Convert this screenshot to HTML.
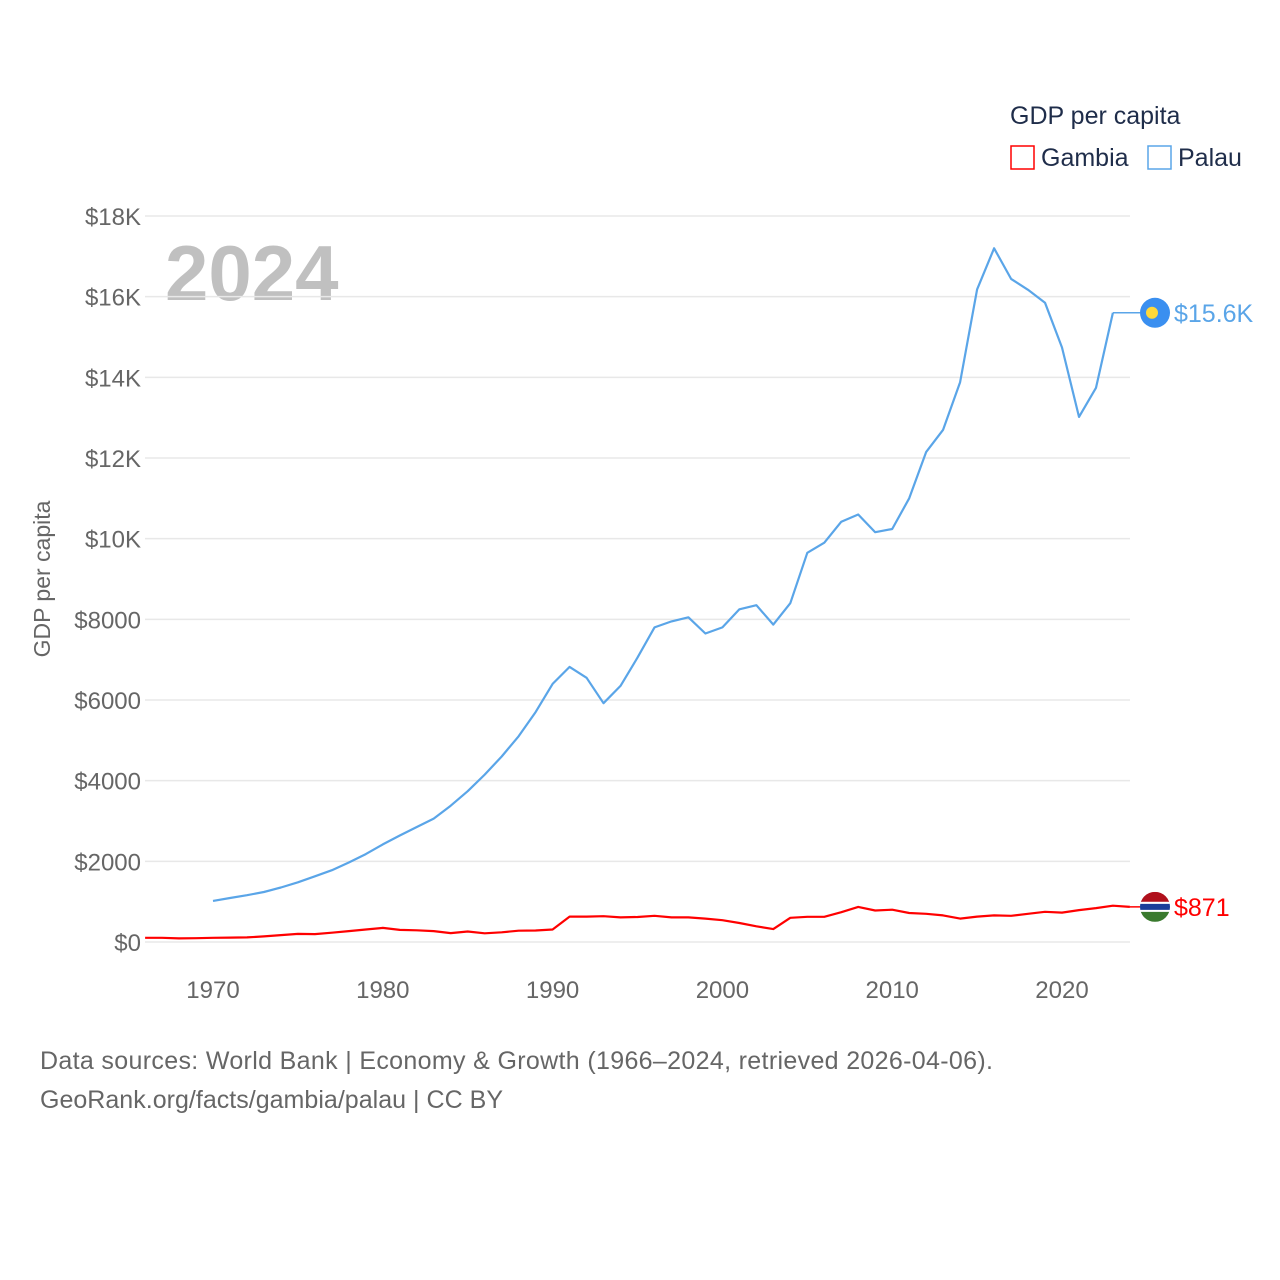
<!DOCTYPE html>
<html><head><meta charset="utf-8">
<style>
html,body{margin:0;padding:0;background:#fff;}
svg{display:block;font-family:"Liberation Sans",sans-serif;}
</style></head>
<body>
<svg id="chart" width="1280" height="1280" viewBox="0 0 1280 1280">
  <text x="1010" y="124" font-size="25" fill="#1f2d4a">GDP per capita</text>
  <g>
    <rect x="1011" y="146" width="23" height="23" fill="none" stroke="#ff0000" stroke-width="1.5"/>
    <text x="1041" y="166" font-size="25" fill="#1f2d4a">Gambia</text>
  </g>
  <g>
    <rect x="1148" y="146" width="23" height="23" fill="none" stroke="#5aa5e8" stroke-width="1.5"/>
    <text x="1178" y="166" font-size="25" fill="#1f2d4a">Palau</text>
  </g>
  <text x="165" y="300" font-size="78" font-weight="bold" fill="#c0c0c0">2024</text>
  <text transform="translate(50,579) rotate(-90)" text-anchor="middle" font-size="23" fill="#666">GDP per capita</text>
  <g id="grid"></g>
  <g id="yticks"></g>
  <g id="xticks"></g>
  <g id="series"></g>
  <text x="40" y="1069" font-size="25" fill="#666" textLength="953">Data sources: World Bank | Economy &amp; Growth (1966–2024, retrieved 2026-04-06).</text>
  <text x="40" y="1108" font-size="25" fill="#666" textLength="463">GeoRank.org/facts/gambia/palau | CC BY</text>
</svg>
<script>
const yTicks=[0,2000,4000,6000,8000,10000,12000,14000,16000,18000];
const yTickLabels=["$0","$2000","$4000","$6000","$8000","$10K","$12K","$14K","$16K","$18K"];
const xTicks=[1970,1980,1990,2000,2010,2020];
const gambiaYears=[1966,1967,1968,1969,1970,1971,1972,1973,1974,1975,1976,1977,1978,1979,1980,1981,1982,1983,1984,1985,1986,1987,1988,1989,1990,1991,1992,1993,1994,1995,1996,1997,1998,1999,2000,2001,2002,2003,2004,2005,2006,2007,2008,2009,2010,2011,2012,2013,2014,2015,2016,2017,2018,2019,2020,2021,2022,2023,2024];
const gambiaValues=[105,105,90,95,105,110,115,140,170,200,195,230,270,310,350,300,290,270,220,260,215,240,280,285,310,630,630,640,610,620,650,610,610,580,540,470,390,320,600,625,625,740,870,780,800,720,700,660,580,630,660,650,700,750,730,790,840,900,871];
const palauYears=[1970,1971,1972,1973,1974,1975,1976,1977,1978,1979,1980,1981,1982,1983,1984,1985,1986,1987,1988,1989,1990,1991,1992,1993,1994,1995,1996,1997,1998,1999,2000,2001,2002,2003,2004,2005,2006,2007,2008,2009,2010,2011,2012,2013,2014,2015,2016,2017,2018,2019,2020,2021,2022,2023];
const palauValues=[1020,1090,1160,1240,1350,1480,1630,1780,1970,2180,2420,2640,2850,3060,3380,3740,4150,4600,5100,5700,6400,6820,6550,5920,6350,7050,7800,7950,8050,7650,7800,8250,8350,7870,8400,9650,9900,10420,10600,10160,10240,11000,12150,12700,13880,16180,17200,16440,16170,15850,14740,13020,13740,15600];

const NS="http://www.w3.org/2000/svg";
const X=yr=>213+(yr-1970)*(1062-213)/50;
const Y=v=>942-v*(942-216)/18000;
function mk(tag,attrs,parent){const e=document.createElementNS(NS,tag);for(const k in attrs)e.setAttribute(k,attrs[k]);parent.appendChild(e);return e;}
const grid=document.getElementById('grid'),yt=document.getElementById('yticks'),xt=document.getElementById('xticks'),ser=document.getElementById('series');
yTicks.forEach((v,i)=>{
  const l=mk('line',{x1:145,x2:1130,y1:Y(v),y2:Y(v),stroke:'#e8e8e8','stroke-width':1.5},grid);
  
  
  const t=mk('text',{x:141,y:Y(v)+9,'text-anchor':'end','font-size':24,fill:'#666'},yt);
  t.textContent=yTickLabels[i];
  
  
});
xTicks.forEach(yr=>{
  const t=mk('text',{x:X(yr),y:998,'text-anchor':'middle','font-size':24,fill:'#666'},xt);
  t.textContent=yr;
  
  
});
function line(years,vals,color,name){
  const d=years.map((y,i)=>(i?'L':'M')+X(y).toFixed(1)+','+Y(vals[i]).toFixed(1)).join(' ');
  const p=mk('path',{d:d,fill:'none',stroke:color,'stroke-width':2.2,'stroke-linejoin':'round'},ser);
  
  
}
line(palauYears,palauValues,'#5aa5e8','palau-line');
line(gambiaYears,gambiaValues,'#ff0000','gambia-line');
const pl=palauValues[palauValues.length-1],py=Y(pl);
const pc=mk('line',{x1:X(palauYears[palauYears.length-1]),x2:1140,y1:py,y2:py,stroke:'#5aa5e8','stroke-width':1.5},ser);


const pf=mk('g',{},ser);


mk('circle',{cx:1155,cy:py,r:15,fill:'#3a8ff0'},pf);
mk('circle',{cx:1152,cy:py,r:6,fill:'#ffd83a'},pf);
const ptx=mk('text',{x:1174,y:py+9,'font-size':25,fill:'#5aa5e8'},ser);
ptx.textContent='$'+(pl/1000).toFixed(1)+'K';


const gl=gambiaValues[gambiaValues.length-1],gy=Y(gl);
const gc=mk('line',{x1:X(2024),x2:1140,y1:gy,y2:gy,stroke:'#ff0000','stroke-width':1.5},ser);


const gf=mk('g',{},ser);


const cp=mk('clipPath',{id:'gclip'},gf);mk('circle',{cx:1155,cy:gy,r:15},cp);
const gg=mk('g',{'clip-path':'url(#gclip)'},gf);
mk('rect',{x:1140,y:gy-15,width:30,height:10,fill:'#b0101c'},gg);
mk('rect',{x:1140,y:gy-5,width:30,height:10,fill:'#ffffff'},gg);
mk('rect',{x:1140,y:gy-3,width:30,height:6,fill:'#1a3e9a'},gg);
mk('rect',{x:1140,y:gy+5,width:30,height:10,fill:'#3a7a2e'},gg);
const gtx=mk('text',{x:1174,y:gy+9,'font-size':25,fill:'#ff0000'},ser);
gtx.textContent='$'+gl;


</script>
</body></html>
